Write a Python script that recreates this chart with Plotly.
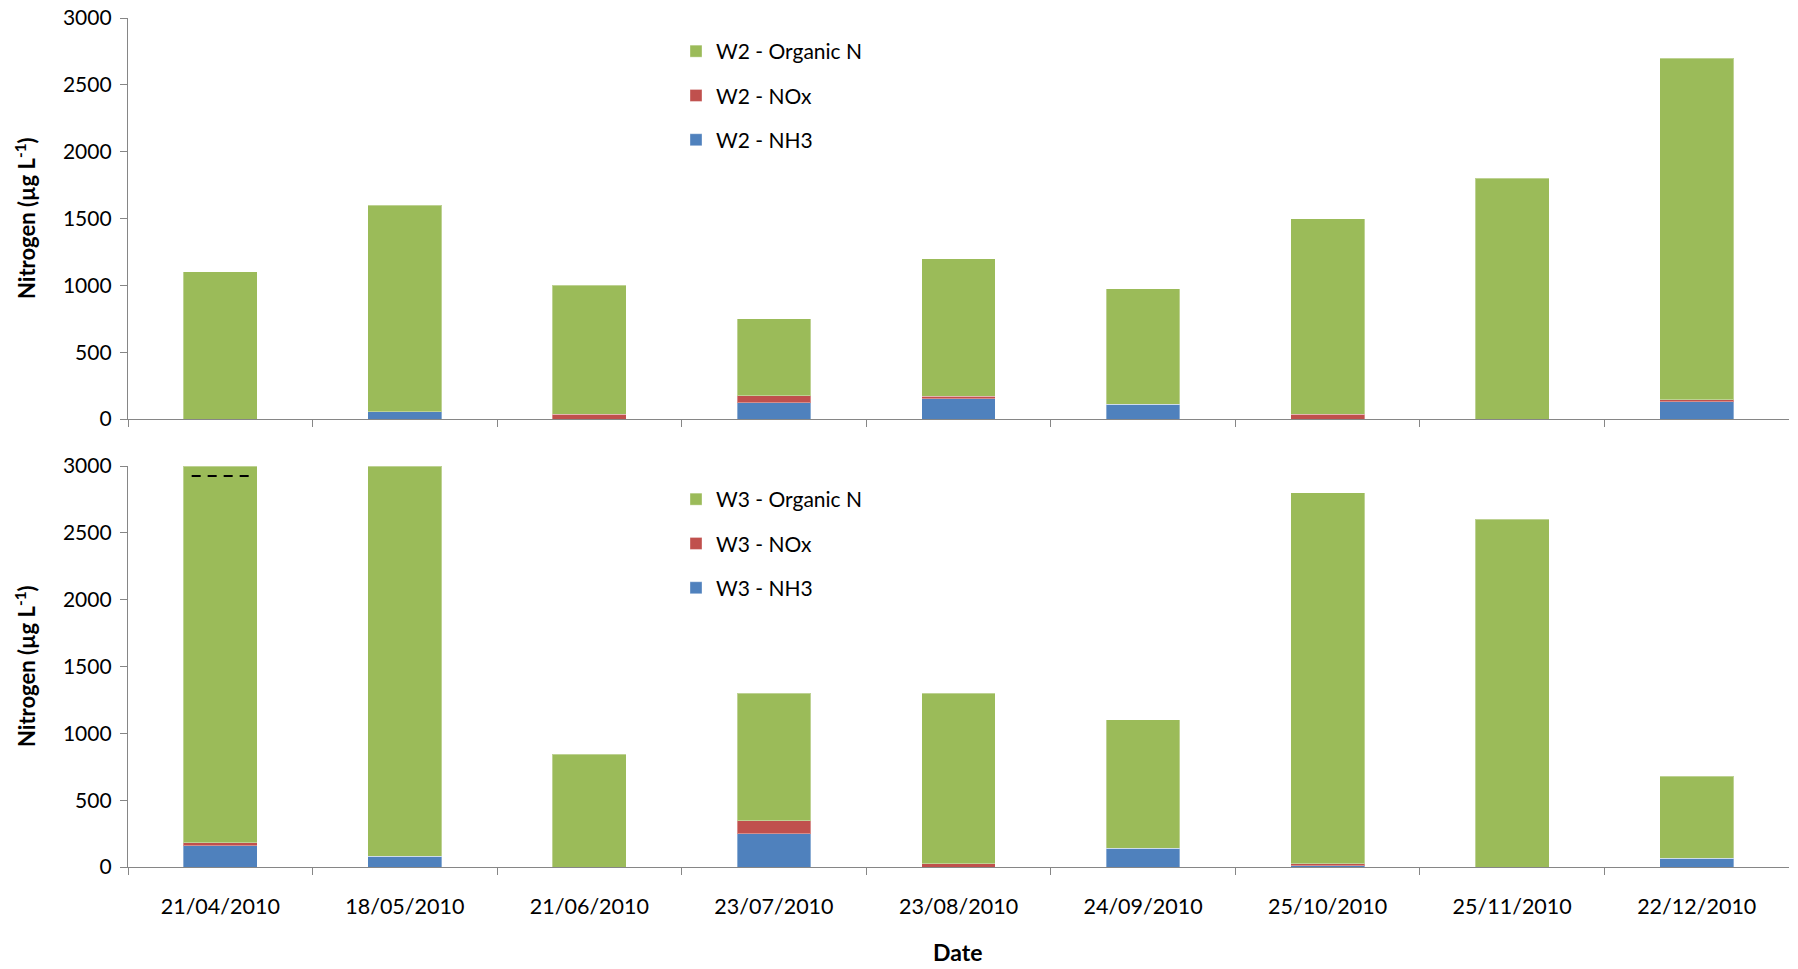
import plotly.graph_objects as go

# Sampling dates (categories)
dates = ["21/04/2010", "18/05/2010", "21/06/2010", "23/07/2010", "23/08/2010",
         "24/09/2010", "25/10/2010", "25/11/2010", "22/12/2010"]

# Site W2 nitrogen fractions (µg L-1)
w2_nh3 = [0, 55, 0, 120, 150, 110, 0, 0, 130]
w2_nox = [0, 0, 35, 55, 20, 0, 35, 0, 15]
w2_org = [1100, 1545, 965, 575, 1030, 865, 1465, 1800, 2555]

# Site W3 nitrogen fractions (µg L-1)
w3_nh3 = [160, 80, 0, 250, 0, 140, 10, 0, 65]
w3_nox = [20, 0, 0, 95, 25, 0, 15, 0, 0]
w3_org = [2820, 2920, 845, 955, 1275, 960, 2775, 2600, 615]

y_ticks = [0, 500, 1000, 1500, 2000, 2500, 3000]

GREEN = "#9BBB59"
RED = "#C0504D"
BLUE = "#4F81BD"
AXIS = "#868686"
FONT = "Lato"

fig = go.Figure()


def add_site(site, nh3, nox, org, xa, ya, legend):
    for rank, (name, vals, col) in zip(
            [3, 2, 1], [("NH3", nh3, BLUE), ("NOx", nox, RED), ("Organic N", org, GREEN)]):
        fig.add_trace(go.Bar(
            x=dates, y=vals, name=f"{site} - {name}",
            marker=dict(color=col, line=dict(color="rgba(255,255,255,0.35)", width=1)),
            xaxis=xa, yaxis=ya, legend=legend, legendgroup=f"{site}{name}",
            legendrank=rank,
        ))


add_site("W2", w2_nh3, w2_nox, w2_org, "x", "y", "legend")
add_site("W3", w3_nh3, w3_nox, w3_org, "x2", "y2", "legend2")

xdom = [128 / 1798, 1789 / 1798]
H = 969
top_dom = [1 - 419 / H, 1 - 18 / H]
bot_dom = [1 - 867 / H, 1 - 466 / H]

axis_common = dict(showline=True, linecolor=AXIS, linewidth=1.3, showgrid=False,
                   zeroline=False, ticks="outside", tickcolor=AXIS, ticklen=7,
                   tickwidth=1.3, automargin=False)

xaxis_common = dict(axis_common, type="category", tickson="boundaries",
                    categoryorder="array", categoryarray=dates, domain=xdom,
                    tickfont=dict(family=FONT, size=21.5, color="black"))
yaxis_common = dict(axis_common, range=[0, 3000], tickvals=y_ticks,
                    tickfont=dict(family=FONT, size=21, color="black"), ticklabelstandoff=4)

legend_common = dict(traceorder="grouped", tracegroupgap=14,
                     font=dict(family=FONT, size=21, color="black"),
                     bgcolor="rgba(0,0,0,0)", xanchor="left", yanchor="top",
                     itemwidth=30)

fig.update_layout(
    width=1798, height=969,
    margin=dict(l=0, r=0, t=0, b=0),
    plot_bgcolor="white", paper_bgcolor="white",
    barmode="stack", bargap=0.6,
    showlegend=True,
    xaxis=dict(xaxis_common, anchor="y", showticklabels=False),
    yaxis=dict(yaxis_common, domain=top_dom, anchor="x"),
    xaxis2=dict(xaxis_common, anchor="y2", ticklabelstandoff=20),
    yaxis2=dict(yaxis_common, domain=bot_dom, anchor="x2"),
    legend=dict(legend_common, x=676 / 1798, y=1 - 31 / H),
    legend2=dict(legend_common, x=676 / 1798, y=1 - 479 / H),
)

# Axis titles
title_font = dict(family=FONT, size=22, color="black")
for yc in [218, 666]:
    fig.add_annotation(text="<b>Nitrogen (µg L<sup>-1</sup>)</b>", textangle=-90,
                       xref="paper", yref="paper", x=25 / 1798, y=1 - yc / H,
                       showarrow=False, font=title_font, xanchor="center", yanchor="middle")
fig.add_annotation(text="<b>Date</b>", xref="paper", yref="paper",
                   x=957 / 1798, y=1 - 952 / H, showarrow=False,
                   font=dict(family=FONT, size=23, color="black"),
                   xanchor="center", yanchor="middle")

# Break marker on the first W3 bar, whose value exceeds the axis range
fig.add_shape(type="line", xref="x2", yref="y2", x0=-0.155, x1=0.155, y0=2925, y1=2925,
              line=dict(color="black", width=2, dash="9px,7px"))

fig.write_html("out.html")
